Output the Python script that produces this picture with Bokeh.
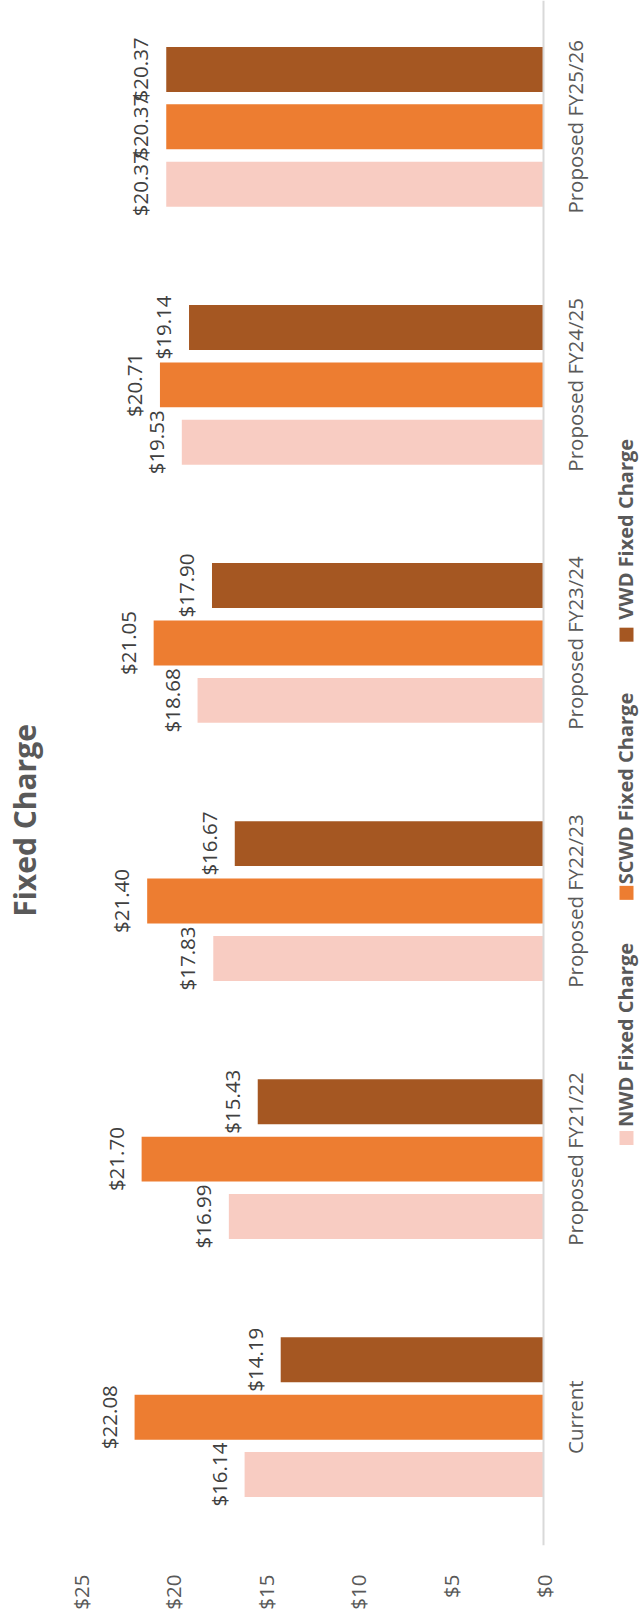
import math
from bokeh.plotting import figure
from bokeh.models import (ColumnDataSource, Range1d, FixedTicker, PrintfTickFormatter, Span)
from bokeh.core.properties import value
from bokeh.embed import file_html
from bokeh.resources import INLINE

# ---- data ----
categories = ["Current", "Proposed FY21/22", "Proposed FY22/23",
              "Proposed FY23/24", "Proposed FY24/25", "Proposed FY25/26"]
series_names = ["NWD Fixed Charge", "SCWD Fixed Charge", "VWD Fixed Charge"]
nwd = [16.14, 16.99, 17.83, 18.68, 19.53, 20.37]
scwd = [22.08, 21.70, 21.40, 21.05, 20.71, 20.37]
vwd = [14.19, 15.43, 16.67, 17.90, 19.14, 20.37]
value_ticks = [0, 5, 10, 15, 20, 25]
title_text = "Fixed Charge"

colors = ["#F8CCC2", "#ED7D31", "#A55722"]
FONT = "Open Sans"
GRAY = "#595959"

# ---- layout constants (pixels) ----
W, H = 640, 1612
frame_h = 1547
BB = H - frame_h             # space under the frame for the value axis
frame_w = W
px_per_val = 18.52
zero_x = 543                 # pixel of value 0 inside the frame
band_px = 258.4
first_center_from_bottom = 128.5

x_start = zero_x / px_per_val
x_end = -(frame_w - zero_x) / px_per_val
y_start = -first_center_from_bottom / band_px
y_end = y_start + frame_h / band_px


def px_to_x(px):             # pixel from left -> data x
    return (zero_x - px) / px_per_val


def px_to_y(px_from_top):    # pixel from top -> data y
    return y_start + (frame_h - px_from_top) / band_px


p = figure(width=W, height=H, output_backend="svg", toolbar_location=None,
           x_range=Range1d(x_start, x_end), y_range=Range1d(y_start, y_end),
           y_axis_location=None,
           min_border_left=0, min_border_right=0,
           min_border_top=0, min_border_bottom=BB)
p.outline_line_color = None
p.xgrid.visible = False
p.ygrid.visible = False
p.background_fill_color = "white"
p.border_fill_color = "white"

# category axis line at value 0
p.add_layout(Span(location=0, dimension="height", line_color="#D9D9D9", line_width=2))

bar_h = 45 / band_px
step = 57.5 / band_px
offsets = [-step, 0.0, step]
for name, vals, col, off in zip(series_names, [nwd, scwd, vwd], colors, offsets):
    src = ColumnDataSource(dict(
        pos=[i + off for i in range(len(categories))],
        val=vals,
        lab=["${:.2f}".format(v) for v in vals],
    ))
    p.hbar(y="pos", left=0, right="val", height=bar_h, source=src,
           fill_color=col, line_color=None)
    p.text(x="val", y="pos", text="lab", source=src, angle=math.pi / 2,
           text_align="center", text_baseline="bottom", x_offset=-12,
           text_font=value(FONT), text_font_size="20.5px", text_color="#404040")

# category labels, next to the value-0 line
cat_src = ColumnDataSource(dict(pos=list(range(len(categories))),
                                zero=[0] * len(categories), cat=categories))
p.text(x="zero", y="pos", text="cat", source=cat_src, angle=math.pi / 2,
       text_align="center", text_baseline="alphabetic", x_offset=31,
       text_font=value(FONT), text_font_size="20.5px", text_color=GRAY)

# value axis (bottom)
xa = p.xaxis[0]
xa.ticker = FixedTicker(ticks=value_ticks)
xa.formatter = PrintfTickFormatter(format="$%d")
xa.major_label_orientation = math.pi / 2
xa.axis_line_color = None
xa.major_tick_line_color = None
xa.minor_tick_line_color = None
xa.major_label_standoff = 23
xa.major_label_text_font = FONT
xa.major_label_text_font_size = "20.5px"
xa.major_label_text_color = GRAY

# title (rotated, left)
p.text(x=[px_to_x(24)], y=[px_to_y(821)], text=[title_text],
       angle=math.pi / 2, text_align="center", text_baseline="alphabetic",
       text_font=value(FONT), text_font_size="30px", text_font_style="bold",
       text_color=GRAY)

# legend (rotated, right side); pixel-y of swatch centres / text starts
leg_swatch_px = [1139, 893.5, 635]
leg_text_px = [1128, 885, 620]
sw_center_px, text_anchor_px = 626, 625
p.scatter(x=[px_to_x(sw_center_px)] * 3, y=[px_to_y(v) for v in leg_swatch_px],
          marker="square", size=14, fill_color=colors, line_color=None)
p.text(x=[px_to_x(text_anchor_px)] * 3, y=[px_to_y(v) for v in leg_text_px],
       text=series_names, angle=math.pi / 2,
       text_align="left", text_baseline="alphabetic",
       text_font=value(FONT), text_font_size="20px", text_font_style="bold",
       text_color=GRAY)

open("out.html", "w").write(file_html(p, INLINE))
